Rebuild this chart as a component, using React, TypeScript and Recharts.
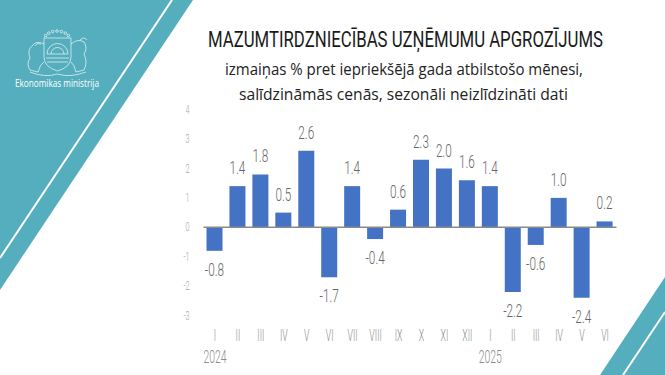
import React from 'react';
import { BarChart, Bar, XAxis, YAxis, ReferenceLine, LabelList } from 'recharts';

const months = ['I', 'II', 'III', 'IV', 'V', 'VI', 'VII', 'VIII', 'IX', 'X', 'XI', 'XII', 'I', 'II', 'III', 'IV', 'V', 'VI'];
const years = ['2024', '', '', '', '', '', '', '', '', '', '', '', '2025', '', '', '', '', ''];
const values = [-0.8, 1.4, 1.8, 0.5, 2.6, -1.7, 1.4, -0.4, 0.6, 2.3, 2.0, 1.6, 1.4, -2.2, -0.6, 1.0, -2.4, 0.2];
const yTicks = [-3, -2, -1, 0, 1, 2, 3, 4];

const title = 'MAZUMTIRDZNIECĪBAS UZŅĒMUMU APGROZĪJUMS';
const subtitle1 = 'izmaiņas % pret iepriekšējā gada atbilstošo mēnesi,';
const subtitle2 = 'salīdzināmās cenās, sezonāli neizlīdzināti dati';
const orgName = 'Ekonomikas ministrija';

const data = values.map((v, i) => ({ key: `${i}`, month: months[i], year: years[i], value: v }));

const TEAL = '#55AEBE';
const BAR = '#4472C4';
const FONT = 'Roboto, "DejaVu Sans", sans-serif';

const MonthTick = (props: any) => {
  const { x, y, payload } = props;
  const i = Number(payload.value);
  return (
    <g>
      <text transform={`translate(${x},${y + 17}) scale(0.55,1)`} textAnchor="middle" fontFamily={FONT} fontWeight={300} fontSize={16} fill="#8c8c8c">
        {months[i]}
      </text>
      {years[i] ? (
        <text transform={`translate(${x},${y + 39}) scale(0.58,1)`} textAnchor="middle" fontFamily={FONT} fontWeight={300} fontSize={18} fill="#8c8c8c">
          {years[i]}
        </text>
      ) : null}
    </g>
  );
};

const YTick = (props: any) => {
  const { x, y, payload } = props;
  return (
    <text transform={`translate(${x - 6},${y + 4}) scale(0.6,1)`} textAnchor="end" fontFamily={FONT} fontWeight={300} fontSize={12} fill="#a6a6a6">
      {payload.value}
    </text>
  );
};

const ValueLabel = (props: any) => {
  const { x, y, width, height, value } = props;
  const top = Math.min(y, y + height);
  const bottom = Math.max(y, y + height);
  const cx = x + width / 2;
  const ty = value >= 0 ? top - 12 : bottom + 25;
  return (
    <text transform={`translate(${cx},${ty}) scale(0.62,1)`} textAnchor="middle" fontFamily={FONT} fontWeight={300} fontSize={19} fill="#666666">
      {Number(value).toFixed(1)}
    </text>
  );
};

const Emblem = () => (
  <g fill="none" stroke="#ffffff" strokeWidth={0.8} strokeOpacity={0.8}>
    {[0, 1, 2, 3, 4, 5, 6].map((k) => {
      const a = Math.PI * (0.2 + 0.1 * k);
      return <circle key={k} cx={57 + Math.cos(a) * 14} cy={42 - Math.sin(a) * 11} r={1.3} />;
    })}
    <path d="M44,38 L71,38 L71,57 Q71,67 57.5,71 Q44,67 44,57 Z" />
    <path d="M47,54 A10.5,10.5 0 0 1 68,54 Z" />
    <path d="M51,54 A6.5,6.5 0 0 1 64,54" />
    <path d="M46,58 L69,58 M47,62 L68,62" />
    <path d="M44,44 Q36,40 32,46 Q27,50 30,58 Q26,64 30,70 L38,72 Q40,64 44,62" />
    <path d="M35,46 Q37,42 41,44" />
    <path d="M71,44 Q78,38 84,42 Q88,48 84,54 Q88,62 84,70 L76,72 Q74,64 71,62" />
    <path d="M80,40 Q84,36 87,40" />
    <path d="M30,72 Q45,78 57.5,74 Q70,78 86,72" />
  </g>
);

export default function App() {
  return (
    <div style={{ position: 'fixed', left: 0, top: 0, width: 665, height: 375, background: '#ffffff', overflow: 'hidden' }}>
      <svg width={665} height={375} style={{ position: 'absolute', left: 0, top: 0 }}>
        <polygon points="0,0 193,0 0,290" fill={TEAL} />
        <line x1={172} y1={0} x2={0} y2={258} stroke="#ffffff" strokeWidth={2} />
        <polygon points="665,277 600,375 665,375" fill={TEAL} />
        <line x1={665} y1={312} x2={623} y2={375} stroke="#ffffff" strokeWidth={2} />
        <Emblem />
        <text x={57} y={87} textAnchor="middle" fontFamily='"Open Sans", sans-serif' fontSize={11} fill="#ffffff" textLength={84} lengthAdjust="spacingAndGlyphs">
          {orgName}
        </text>
        <text x={405.5} y={47} textAnchor="middle" fontFamily={FONT} fontWeight={400} fontSize={22} fill="#1a1a1a" textLength={395} lengthAdjust="spacingAndGlyphs">
          {title}
        </text>
        <text x={404} y={75} textAnchor="middle" fontFamily='"Open Sans", sans-serif' fontSize={16} fill="#222222" textLength={358} lengthAdjust="spacingAndGlyphs">
          {subtitle1}
        </text>
        <text x={403.5} y={100} textAnchor="middle" fontFamily='"Open Sans", sans-serif' fontSize={16} fill="#222222" textLength={329} lengthAdjust="spacingAndGlyphs">
          {subtitle2}
        </text>
      </svg>
      <div style={{ position: 'absolute', left: 0, top: 0 }}>
        <BarChart width={665} height={375} data={data} margin={{ top: 109.7, right: 48.5, bottom: 19.5, left: 173.5 }}>
          <XAxis dataKey="key" height={40} axisLine={false} tickLine={false} interval={0} tick={<MonthTick />} />
          <YAxis domain={[-3, 4]} ticks={yTicks} width={30} axisLine={false} tickLine={false} tick={<YTick />} />
          <Bar dataKey="value" fill={BAR} barSize={16} isAnimationActive={false}>
            <LabelList dataKey="value" content={<ValueLabel />} />
          </Bar>
          <ReferenceLine y={0} stroke="#8a8a8a" strokeWidth={1.5} />
        </BarChart>
      </div>
    </div>
  );
}
